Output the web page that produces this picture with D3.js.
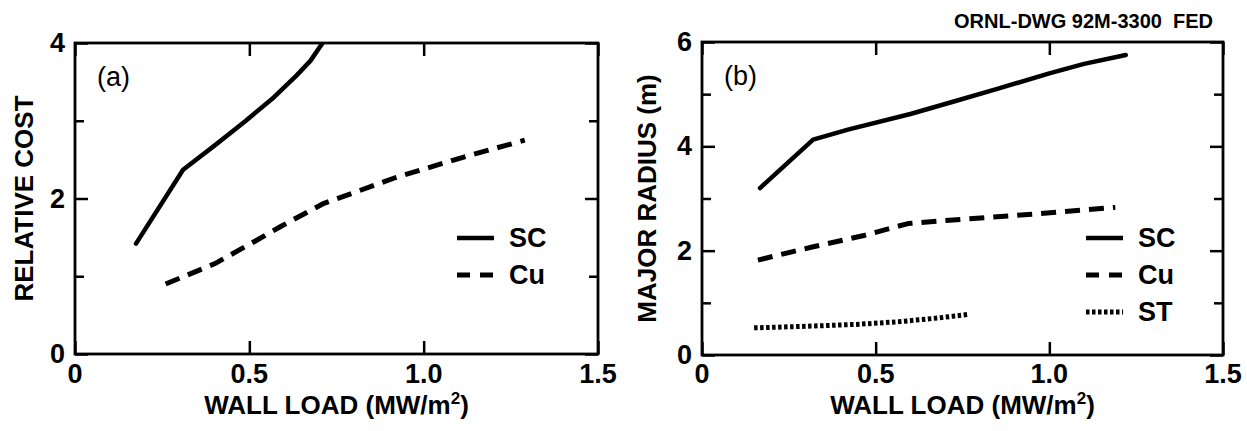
<!DOCTYPE html>
<html>
<head>
<meta charset="utf-8">
<script src="https://cdn.jsdelivr.net/npm/d3@7"></script>
<style>
  body { margin: 0; background: #fff; }
  text { font-family: "Liberation Sans", Arial, sans-serif; font-weight: bold; fill: #000; }
</style>
</head>
<body>
<script>
// values
const xTicks = [0, 0.5, 1.0, 1.5];
const costTicks = [0, 2, 4];
const costMinor = [1, 3];
const radiusTicks = [0, 2, 4, 6];
const radiusMinor = [1, 3, 5];

// (a) relative cost
const costSC = [[0.175,1.42],[0.31,2.37],[0.4,2.68],[0.49,3.0],[0.57,3.3],[0.635,3.58],[0.675,3.77],[0.71,4.0]];
const costCu = [[0.26,0.9],[0.4,1.16],[0.52,1.46],[0.59,1.64],[0.71,1.93],[0.92,2.27],[1.12,2.54],[1.29,2.75]];

// (b) major radius
const radSC = [[0.167,3.2],[0.32,4.13],[0.42,4.32],[0.6,4.62],[0.72,4.85],[0.85,5.1],[1.0,5.4],[1.1,5.58],[1.22,5.75]];
const radCu = [[0.161,1.82],[0.317,2.07],[0.466,2.29],[0.593,2.52],[0.766,2.61],[0.973,2.71],[1.19,2.83]];
const radST = [[0.15,0.52],[0.3,0.55],[0.455,0.59],[0.57,0.64],[0.68,0.71],[0.77,0.78]];

const styles = {
  SC: { dash: null, w: 4.5, legDash: null },
  Cu: { dash: "15,9", w: 5, legDash: "13,10" },
  ST: { dash: "3.5,2.5", w: 5, legDash: "3.5,2.5" }
};

let svg = d3.select("body").append("svg")
  .attr("width", 1247)
  .attr("height", 431);

function panel(opt) {
  let x = d3.scaleLinear().domain([0, 1.5]).range([opt.left, opt.right]);
  let y = d3.scaleLinear().domain([0, opt.ymax]).range([opt.bottom, opt.top]);
  let g = svg.append("g");

  // clip so lines stop at frame
  let cid = "clip" + opt.id;
  g.append("clipPath").attr("id", cid).append("rect")
    .attr("x", opt.left).attr("y", opt.top)
    .attr("width", opt.right - opt.left).attr("height", opt.bottom - opt.top);

  // inner ticks, all four sides
  const major = 13, minor = 9;
  let tickAxes = [
    [d3.axisLeft(y).tickValues(opt.yTicks).tickSize(-major), opt.left, 0],
    [d3.axisLeft(y).tickValues(opt.yMinor).tickSize(-minor), opt.left, 0],
    [d3.axisRight(y).tickValues(opt.yTicks).tickSize(-major), opt.right, 0],
    [d3.axisRight(y).tickValues(opt.yMinor).tickSize(-minor), opt.right, 0],
    [d3.axisBottom(x).tickValues(xTicks).tickSize(-major), 0, opt.bottom],
    [d3.axisTop(x).tickValues(xTicks).tickSize(-major), 0, opt.top]
  ];
  tickAxes.forEach(function (a) {
    let ag = g.append("g")
      .attr("transform", "translate(" + a[1] + "," + a[2] + ")")
      .call(a[0].tickFormat(""));
    ag.select(".domain").remove();
    ag.selectAll("line").attr("stroke", "#000").attr("stroke-width", 2.5);
  });

  // frame
  g.append("rect")
    .attr("x", opt.left).attr("y", opt.top)
    .attr("width", opt.right - opt.left).attr("height", opt.bottom - opt.top)
    .attr("fill", "none").attr("stroke", "#000").attr("stroke-width", 2.8);

  // tick labels
  g.selectAll(".xl").data(xTicks).enter().append("text")
    .attr("x", d => x(d)).attr("y", 383)
    .attr("text-anchor", "middle").attr("font-size", 27)
    .text(d => d === 0 ? "0" : d3.format(".1f")(d));
  g.selectAll(".yl").data(opt.yTicks).enter().append("text")
    .attr("x", opt.left - 10).attr("y", d => y(d) + 9)
    .attr("text-anchor", "end").attr("font-size", 27)
    .text(d => d);

  // axis titles
  let xt = g.append("text")
    .attr("x", (opt.left + opt.right) / 2).attr("y", 414)
    .attr("text-anchor", "middle").attr("font-size", 26);
  xt.append("tspan").text("WALL LOAD (MW/m");
  xt.append("tspan").attr("font-size", 17).attr("dy", -10).text("2");
  xt.append("tspan").attr("dy", 10).text(")");

  g.append("text")
    .attr("transform", "translate(" + opt.ytx + "," + ((opt.top + opt.bottom) / 2) + ") rotate(-90)")
    .attr("text-anchor", "middle").attr("font-size", 26)
    .text(opt.ytitle);

  g.append("text")
    .attr("x", opt.left + 22).attr("y", opt.top + 43)
    .attr("font-size", 27).style("font-weight", "normal")
    .text(opt.tag);

  // series
  let line = d3.line().x(d => x(d[0])).y(d => y(d[1]));
  opt.series.forEach(function (s) {
    g.append("path")
      .attr("d", line(s.data))
      .attr("clip-path", "url(#" + cid + ")")
      .attr("fill", "none").attr("stroke", "#000")
      .attr("stroke-width", styles[s.name].w)
      .attr("stroke-dasharray", styles[s.name].dash)
      .attr("stroke-linecap", s.name === "SC" ? "round" : "butt")
      .attr("stroke-linejoin", "round");
  });

  // legend
  opt.series.forEach(function (s, i) {
    let ly = opt.legY + i * 37;
    g.append("line")
      .attr("x1", opt.legX).attr("x2", opt.legX + 37)
      .attr("y1", ly).attr("y2", ly)
      .attr("stroke", "#000")
      .attr("stroke-width", styles[s.name].w)
      .attr("stroke-dasharray", styles[s.name].legDash);
    g.append("text")
      .attr("x", opt.legX + 52).attr("y", ly + 9)
      .attr("font-size", 27)
      .text(s.name);
  });
}

panel({
  id: "a", left: 75, right: 598, top: 43, bottom: 354, ymax: 4,
  yTicks: costTicks, yMinor: costMinor, ytitle: "RELATIVE COST", ytx: 33,
  tag: "(a)", legX: 457, legY: 238,
  series: [{ name: "SC", data: costSC }, { name: "Cu", data: costCu }]
});

panel({
  id: "b", left: 702, right: 1223, top: 42, bottom: 355, ymax: 6,
  yTicks: radiusTicks, yMinor: radiusMinor, ytitle: "MAJOR RADIUS (m)", ytx: 656,
  tag: "(b)", legX: 1086, legY: 238,
  series: [{ name: "SC", data: radSC }, { name: "Cu", data: radCu }, { name: "ST", data: radST }]
});

svg.append("text")
  .attr("x", 1213).attr("y", 28)
  .attr("text-anchor", "end").attr("font-size", 20)
  .style("white-space", "pre")
  .text("ORNL-DWG 92M-3300  FED");
</script>
</body>
</html>
